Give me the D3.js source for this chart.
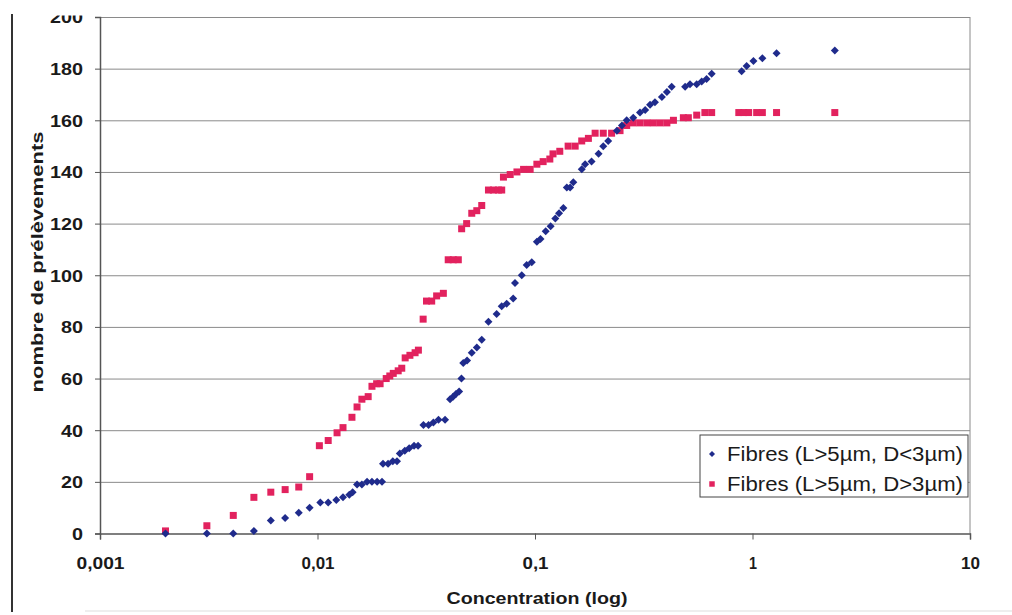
<!DOCTYPE html>
<html><head><meta charset="utf-8">
<script src="https://cdn.jsdelivr.net/npm/d3@7"></script>
<style>body{margin:0;background:#fff;}svg{display:block;font-family:"Liberation Sans",Arial,sans-serif;}</style>
</head><body>
<svg id="c" width="1012" height="615"></svg>
<script>
const xTicks = [0.001, 0.01, 0.1, 1, 10];
const xTickLabels = ["0,001", "0,01", "0,1", "1", "10"];
const yTicks = [0, 20, 40, 60, 80, 100, 120, 140, 160, 180, 200];
const seriesNames = ["Fibres (L>5µm, D<3µm)", "Fibres (L>5µm, D>3µm)"];
const xTitle = "Concentration (log)";
const yTitle = "nombre de prélèvements";

const blueData = [[0.002,0],[0.0031,0],[0.0041,0],[0.0051,1],[0.0061,5],[0.0071,6],[0.0082,8],[0.0092,10],[0.0103,12],[0.0112,12],[0.0122,13],[0.0131,14],[0.0140,15],[0.0145,16],[0.0152,19],[0.0160,19],[0.0169,20],[0.0178,20],[0.0188,20],[0.0198,20],[0.0200,27],[0.0211,27],[0.0222,28],[0.0232,28],[0.0239,31],[0.0252,32],[0.0264,33],[0.0278,34],[0.0290,34],[0.0307,42],[0.0324,42],[0.0341,43],[0.0360,44],[0.0386,44],[0.0407,52],[0.0420,53],[0.0433,54],[0.0448,55],[0.0459,60],[0.0468,66],[0.0487,67],[0.0512,70],[0.0540,72],[0.0569,75],[0.0611,82],[0.0666,85],[0.0703,88],[0.0741,89],[0.0794,91],[0.0809,97],[0.0869,100],[0.0916,104],[0.0966,105],[0.102,113],[0.106,114],[0.112,117],[0.118,119],[0.124,122],[0.129,124],[0.135,126],[0.140,134],[0.145,134],[0.150,136],[0.164,141],[0.170,143],[0.182,144],[0.196,147],[0.206,150],[0.217,152],[0.238,156],[0.251,158],[0.264,160],[0.283,161],[0.304,163],[0.321,164],[0.338,166],[0.356,167],[0.383,169],[0.404,171],[0.425,173],[0.490,173],[0.516,174],[0.554,174],[0.584,175],[0.615,176],[0.649,178],[0.891,179],[0.94,181],[1.01,183],[1.11,184],[1.29,186],[2.39,187]];

const redData = [[0.002,1],[0.0031,3],[0.0041,7],[0.0051,14],[0.0061,16],[0.0071,17],[0.0082,18],[0.0092,22],[0.0102,34],[0.0112,36],[0.0123,39],[0.0131,41],[0.0144,45],[0.0152,49],[0.016,52],[0.0171,53],[0.0178,57],[0.0187,58],[0.0194,58],[0.0207,60],[0.0215,61],[0.0223,62],[0.0235,63],[0.0244,64],[0.0253,68],[0.0266,69],[0.0281,70],[0.0291,71],[0.0306,83],[0.0317,90],[0.0335,90],[0.0353,92],[0.0379,93],[0.0399,106],[0.0421,106],[0.0444,106],[0.046,118],[0.0485,120],[0.0512,124],[0.054,125],[0.0569,127],[0.0611,133],[0.0644,133],[0.0679,133],[0.0703,133],[0.0716,138],[0.0769,139],[0.0826,140],[0.0886,141],[0.095,141],[0.102,143],[0.109,144],[0.117,145],[0.121,147],[0.130,148],[0.142,150],[0.153,150],[0.164,152],[0.176,153],[0.189,155],[0.206,155],[0.225,155],[0.246,156],[0.264,158],[0.283,159],[0.304,159],[0.327,159],[0.350,159],[0.376,159],[0.404,159],[0.433,160],[0.481,161],[0.507,161],[0.554,162],[0.604,163],[0.649,163],[0.865,163],[0.912,163],[0.96,163],[1.045,163],[1.11,163],[1.29,163],[2.39,163]];

const BLUE = "#1f2b8c", RED = "#e2225e";
const svg = d3.select("#c");
const L = 100, R = 970, T = 17, B = 533.5;
const x = d3.scaleLog().domain([0.001, 10]).range([L, R]);
const y = d3.scaleLinear().domain([0, 200]).range([B, T]);

// outer scan border on left
svg.append("line").attr("x1",12).attr("x2",12).attr("y1",14).attr("y2",612).attr("stroke","#333").attr("stroke-width",2);
svg.append("line").attr("x1",85).attr("x2",1012).attr("y1",611).attr("y2",611).attr("stroke","#ddd").attr("stroke-width",1);

// gridlines
const grid = svg.append("g").attr("transform",`translate(${L},0)`)
  .call(d3.axisLeft(y).tickValues(yTicks.filter(d=>d>0)).tickSize(-(R-L)).tickFormat(""));
grid.select(".domain").remove();
grid.selectAll("line").attr("stroke","#8a8a8a").attr("stroke-width",1);

// right border
svg.append("line").attr("x1",R).attr("x2",R).attr("y1",T).attr("y2",B).attr("stroke","#8a8a8a");

// y axis
const ya = svg.append("g").attr("transform",`translate(${L},0)`)
  .call(d3.axisLeft(y).tickValues(yTicks).tickSize(5).tickPadding(12));
ya.select(".domain").attr("stroke","#555").attr("stroke-width",1.5);
ya.selectAll(".tick line").attr("stroke","#555");
ya.selectAll("text").attr("font-family","Liberation Sans, Arial, sans-serif").attr("font-size",16.5).attr("font-weight","bold").attr("fill","#1a1a1a")
  .attr("dy","0.36em").attr("textLength", d => String(d).length*11).attr("lengthAdjust","spacingAndGlyphs");

// x axis
const xLabelLen = [48, 33, 26, 8, 19];
const xa = svg.append("g").attr("transform",`translate(0,${B})`)
  .call(d3.axisBottom(x).tickValues(xTicks).tickSize(6).tickFormat((d,i)=>xTickLabels[i]));
xa.select(".domain").attr("stroke","#555").attr("stroke-width",1.5);
xa.selectAll(".tick line").attr("stroke","#555");
xa.selectAll("text").attr("font-family","Liberation Sans, Arial, sans-serif").attr("font-size",16.5).attr("font-weight","bold").attr("fill","#1a1a1a")
  .attr("y",24).attr("textLength",(d,i)=>xLabelLen[i]).attr("lengthAdjust","spacingAndGlyphs");

// titles
svg.append("text").attr("x",(L+R)/2+2).attr("y",604).attr("text-anchor","middle")
  .attr("font-size",16).attr("font-weight","bold").attr("fill","#1a1a1a")
  .attr("textLength",181).attr("lengthAdjust","spacingAndGlyphs").text(xTitle);
svg.append("text").attr("transform","translate(43,262) rotate(-90)").attr("text-anchor","middle")
  .attr("font-size",17).attr("font-weight","bold").attr("fill","#1a1a1a")
  .attr("textLength",261).attr("lengthAdjust","spacingAndGlyphs").text(yTitle);

// points
const diamond = s => `M0,${-s}L${s},0L0,${s}L${-s},0Z`;
svg.append("g").selectAll("path").data(redData).join("path")
  .attr("d", d3.symbol(d3.symbolSquare, 49)())
  .attr("transform", d => `translate(${x(d[0])},${y(d[1])})`)
  .attr("fill", RED);
svg.append("g").selectAll("path").data(blueData).join("path")
  .attr("d", diamond(4))
  .attr("transform", d => `translate(${x(d[0])},${y(d[1])})`)
  .attr("fill", BLUE);

// legend
const lg = svg.append("g");
lg.append("rect").attr("x",700).attr("y",435).attr("width",268).attr("height",62).attr("fill","#fff").attr("stroke","#444").attr("stroke-width",1);
lg.append("path").attr("d",diamond(3)).attr("transform","translate(712,454)").attr("fill",BLUE);
lg.append("path").attr("d",d3.symbol(d3.symbolSquare,30)()).attr("transform","translate(712,484)").attr("fill",RED);
seriesNames.forEach((n,i)=>{
  lg.append("text").attr("x",727).attr("y",461+i*30).attr("font-size",19.5).attr("fill","#1a1a1a")
    .attr("textLength",236).attr("lengthAdjust","spacingAndGlyphs").text(n);
});

// top crop of the scan
svg.append("rect").attr("x",14).attr("y",0).attr("width",998).attr("height",15.5).attr("fill","#fff");
</script>
</body></html>
